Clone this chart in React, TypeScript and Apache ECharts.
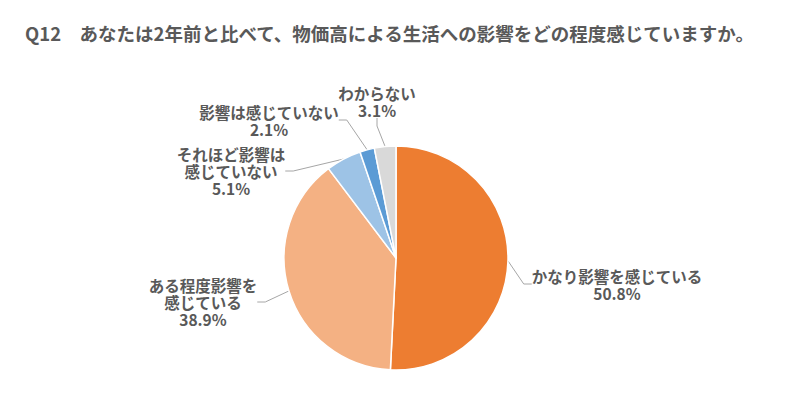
import React, { useEffect, useRef } from "react";
import * as echarts from "echarts";

const titleText = "Q12　あなたは2年前と比べて、物価高による生活への影響をどの程度感じていますか。";
const categories = [
  "かなり影響を感じている",
  "ある程度影響を\n感じている",
  "それほど影響は\n感じていない",
  "影響は感じていない",
  "わからない",
];
const values = [50.8, 38.9, 5.1, 2.1, 3.1];
const colors = ["#ED7D31", "#F4B183", "#9DC3E6", "#5B9BD5", "#D9D9D9"];
// label anchor positions (px, centre of the text block)
const labelPos: [number, number][] = [
  [617, 284],
  [203, 302],
  [231, 171],
  [269, 120],
  [377, 101],
];

export default function App() {
  const ref = useRef<HTMLDivElement>(null);
  useEffect(() => {
    document.body.style.margin = "0";
    const chart = echarts.init(ref.current!, null, { renderer: "svg" });
    chart.setOption({
      animation: false,
      backgroundColor: "#ffffff",
      title: {
        text: titleText,
        left: 25,
        top: 23,
        padding: 0,
        textStyle: {
          fontFamily: "Noto Sans CJK JP",
          fontWeight: "bold",
          fontSize: 18.5,
          lineHeight: 20,
          color: "#595959",
        },
      },
      series: [
        {
          type: "pie",
          center: [396, 258],
          radius: [0, 112],
          startAngle: 90,
          clockwise: true,
          data: categories.map((c, i) => ({
            name: c,
            value: values[i],
            itemStyle: { color: colors[i] },
          })),
          itemStyle: { borderColor: "#ffffff", borderWidth: 1.5 },
          label: {
            show: true,
            formatter: (p: any) => `${p.name}\n${values[p.dataIndex].toFixed(1)}%`,
            fontFamily: "Noto Sans CJK JP",
            fontWeight: "bold",
            fontSize: 15.5,
            lineHeight: 17,
            color: "#595959",
            align: "center",
          },
          labelLine: {
            show: true,
            length: 10,
            length2: 8,
            lineStyle: { color: "#A6A6A6", width: 1 },
          },
          labelLayout: (p: any) => {
            const lp = labelPos[p.dataIndex];
            return {
              x: lp[0],
              y: lp[1],
              align: "center",
              verticalAlign: "middle",
            };
          },
        },
      ],
    });
    return () => chart.dispose();
  }, []);
  return <div ref={ref} style={{ width: 787, height: 398 }} />;
}
